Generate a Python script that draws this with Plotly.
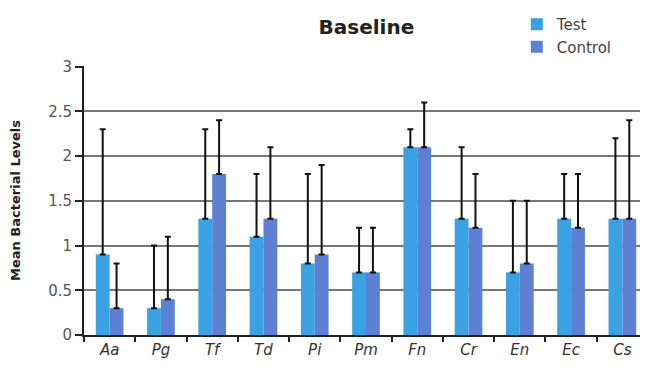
import plotly.graph_objects as go

categories = ["Aa", "Pg", "Tf", "Td", "Pi", "Pm", "Fn", "Cr", "En", "Ec", "Cs"]
test_values = [0.9, 0.3, 1.3, 1.1, 0.8, 0.7, 2.1, 1.3, 0.7, 1.3, 1.3]
test_err = [1.4, 0.7, 1.0, 0.7, 1.0, 0.5, 0.2, 0.8, 0.8, 0.5, 0.9]
control_values = [0.3, 0.4, 1.8, 1.3, 0.9, 0.7, 2.1, 1.2, 0.8, 1.2, 1.3]
control_err = [0.5, 0.7, 0.6, 0.8, 1.0, 0.5, 0.5, 0.6, 0.7, 0.6, 1.1]
y_ticks = [0, 0.5, 1, 1.5, 2, 2.5, 3]
y_tick_labels = ["0", "0.5", "1", "1.5", "2", "2.5", "3"]

cat_labels = [f"<i>{c}</i>" for c in categories]

fig = go.Figure()
fig.add_trace(go.Bar(
    name="Test", x=cat_labels, y=test_values, legendgroup="t",
    marker=dict(color="#3AA2E2", line=dict(width=0)),
    error_y=dict(type="data", array=test_err, arrayminus=[0]*len(test_err), symmetric=False,
                 color="#111111", thickness=2, width=3),
))
fig.add_trace(go.Bar(
    name="Control", x=cat_labels, y=control_values, legendgroup="c",
    marker=dict(color="#5E80D2", line=dict(width=0)),
    error_y=dict(type="data", array=control_err, arrayminus=[0]*len(control_err), symmetric=False,
                 color="#111111", thickness=2, width=3),
))

fig.update_layout(
    width=640, height=361,
    margin=dict(l=76, r=0, t=58, b=34, autoexpand=False),
    paper_bgcolor="white", plot_bgcolor="white",
    barmode="group", bargap=0.46, bargroupgap=0,
    font=dict(family="DejaVu Sans", color="#444444"),
    title=dict(text="<b>Baseline</b>", x=0.56, xanchor="center", y=0.947, yanchor="middle",
               font=dict(size=20, color="#222222", family="DejaVu Sans")),
    legend=dict(xref="container", yref="container", x=0.795, y=1.03, xanchor="left", yanchor="top",
                font=dict(size=15, color="#444444"), itemwidth=30, tracegroupgap=0,
                traceorder="grouped", bgcolor="rgba(0,0,0,0)"),
    showlegend=True,
)
fig.update_xaxes(
    showline=True, linecolor="#222222", linewidth=2,
    ticks="outside", tickson="boundaries", ticklen=5, tickcolor="#222222", tickwidth=2,
    tickfont=dict(size=15, color="#333333"), showgrid=False,
)
fig.update_yaxes(
    range=[0, 3.008], tickvals=y_ticks, ticktext=y_tick_labels,
    showline=True, linecolor="#222222", linewidth=2,
    ticks="outside", ticklen=7, tickcolor="#222222", tickwidth=2,
    tickfont=dict(size=15, color="#555555"),
    showgrid=True, gridcolor="#777777", gridwidth=2,
    title=dict(text="<b>Mean Bacterial Levels</b>", font=dict(size=13, color="#222222"), standoff=30),
)

fig.write_html("out.html")
